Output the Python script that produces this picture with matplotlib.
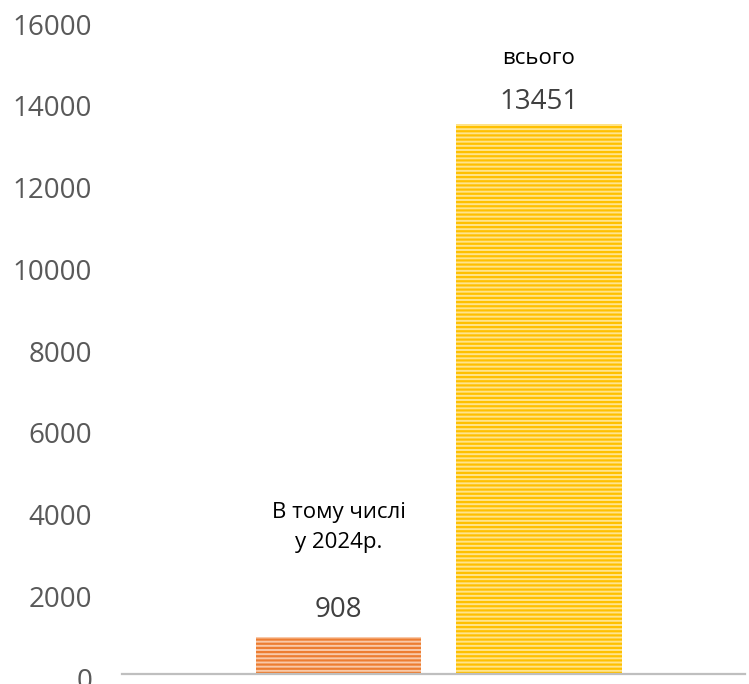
import matplotlib.pyplot as plt
from matplotlib.transforms import ScaledTranslation

plt.rcParams['font.family'] = ['Open Sans', 'DejaVu Sans']
plt.rcParams['hatch.linewidth'] = 1.6

categories = ["В тому числі\nу 2024р.", "всього"]
values = [908, 13451]
face_colors = ["#F9C9A8", "#FFE48C"]
hatch_colors = ["#ED7D31", "#FFC000"]
yticks = [0, 2000, 4000, 6000, 8000, 10000, 12000, 14000, 16000]

fig = plt.figure(figsize=(7.49, 6.84), dpi=100)
ax = fig.add_axes([0.163, 0.01462, 0.832, 0.9562])

x = range(len(values))
bars = ax.bar(x, values, width=0.825, color=face_colors, edgecolor=hatch_colors,
              linewidth=0, hatch="----")

ax.set_xlim(-1.0825, 2.03)
ax.set_ylim(0, 16000)
ax.set_yticks(yticks)
ax.set_yticklabels([str(t) for t in yticks], fontsize=20, color="#595959")
ax.tick_params(axis="y", length=0, pad=21.6)
ax.set_xticks([])

# excel puts the tick labels a little below the gridline
shift = ScaledTranslation(0, -3 / 72, fig.dpi_scale_trans)
for lab in ax.get_yticklabels():
    lab.set_transform(lab.get_transform() + shift)

for s in ["top", "right", "left"]:
    ax.spines[s].set_visible(False)
ax.spines["bottom"].set_color("#BFBFBF")
ax.spines["bottom"].set_linewidth(1.6)

# value labels and category text above the bars
offsets = [(27, 109), (22, 66)]
for i, (v, name) in enumerate(zip(values, categories)):
    ax.annotate(str(v), (i, v), xytext=(0, offsets[i][0] * 0.72), textcoords="offset points",
                ha="center", va="center", fontsize=20, color="#404040")
    ax.annotate(name, (i, v), xytext=(0, offsets[i][1] * 0.72), textcoords="offset points",
                ha="center", va="center", fontsize=16, color="#000000", linespacing=1.55)

fig.savefig("out.png", dpi=100)
